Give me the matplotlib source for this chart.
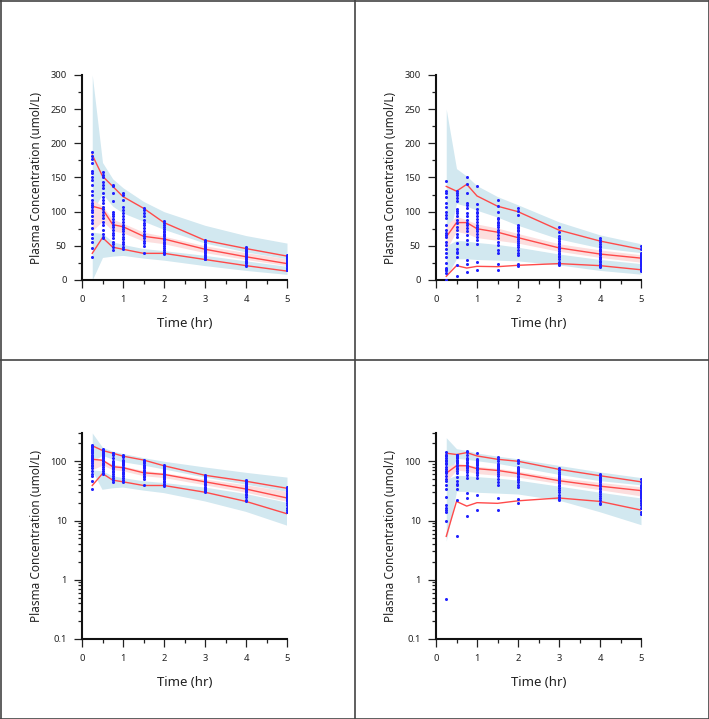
import numpy as np
import matplotlib
matplotlib.use("Agg")
import matplotlib.pyplot as plt
from matplotlib.lines import Line2D
from matplotlib.ticker import MultipleLocator, LogLocator, FixedLocator, NullFormatter, FixedFormatter

plt.rcParams['font.family'] = ['Noto Sans', 'DejaVu Sans']

times = [0.25, 0.5, 0.75, 1, 1.5, 2, 3, 4, 5]

# ---- Model A (left column) observed concentrations per time ----
obs_a_025 = [187, 182, 177, 171, 159, 157, 151, 146, 139, 130, 124, 117, 112, 110, 107, 103, 100, 93, 88, 83, 76, 68, 61, 56, 47, 34]
obs_a_050 = [158, 154, 150, 144, 139, 134, 127, 122, 117, 112, 107, 104, 100, 95, 90, 85, 80, 73, 68, 63, 61]
obs_a_075 = [139, 137, 128, 115, 100, 97, 93, 89, 85, 81, 78, 73, 69, 66, 61, 56, 53, 49, 44]
obs_a_100 = [128, 124, 117, 107, 102, 98, 93, 89, 85, 81, 78, 75, 71, 67, 63, 60, 56, 52, 49, 45]
obs_a_150 = [106, 102, 98, 93, 88, 83, 80, 76, 72, 68, 65, 61, 57, 54, 50, 39]
obs_a_200 = [86, 83, 80, 77, 75, 72, 70, 68, 66, 64, 62, 60, 58, 56, 54, 52, 50, 47, 44, 41, 39, 38]
obs_a_300 = [59, 57, 55, 53, 51, 50, 48, 47, 45, 44, 42, 41, 39, 37, 36, 34, 33, 31, 30]
obs_a_400 = [48, 46, 44, 43, 41, 40, 38, 37, 35, 34, 33, 31, 30, 28, 27, 25, 22, 21]
obs_a_500 = [37, 35, 34, 32, 31, 29, 28, 27, 26, 25, 24, 23, 22, 21, 20, 18, 16, 15, 14]

a_p95 = [183, 152, 137, 122, 105, 84, 58, 46, 35]
a_p50 = [108, 104, 81, 78, 64, 60, 45, 34, 24]
a_p05 = [39, 62, 48, 45, 39, 39, 30, 21, 13]
a_p95_hi = [300, 172, 148, 135, 115, 100, 80, 65, 54]
a_p95_lo = [100, 126, 108, 98, 86, 74, 54, 41, 31]
a_p50_lo = [72, 86, 72, 69, 57, 53, 40, 30, 21]
a_p50_hi = [118, 108, 89, 83, 70, 64, 50, 40, 31]
a_p05_lo = [0, 33, 35, 36, 32, 29, 21, 14, 8.2]
a_p05_hi = [70, 68, 56, 52, 46, 43, 36, 28, 20]

# ---- Model B (right column) ----
obs_b_025 = [145, 130, 128, 122, 112, 107, 100, 95, 90, 80, 73, 69, 66, 63, 56, 51, 46, 39, 34, 25, 18, 16, 15, 14, 10, 0.48]
obs_b_050 = [130, 128, 124, 120, 115, 104, 101, 98, 93, 88, 83, 78, 73, 68, 63, 54, 46, 41, 39, 34, 22, 5.4]
obs_b_075 = [150, 141, 128, 113, 110, 105, 98, 93, 88, 83, 80, 76, 71, 66, 59, 52, 29, 24, 12]
obs_b_100 = [137, 111, 104, 100, 98, 93, 89, 85, 81, 78, 74, 71, 67, 63, 59, 53, 27, 15]
obs_b_150 = [117, 108, 100, 91, 89, 85, 83, 80, 77, 73, 70, 66, 61, 56, 51, 44, 40, 24, 15]
obs_b_200 = [105, 101, 95, 80, 78, 76, 73, 71, 68, 66, 63, 60, 57, 54, 51, 48, 44, 40, 37, 23, 20]
obs_b_300 = [78, 70, 65, 62, 60, 57, 54, 52, 50, 47, 45, 43, 40, 38, 35, 33, 30, 27, 25, 23, 22]
obs_b_400 = [61, 58, 55, 53, 50, 48, 46, 44, 42, 40, 38, 36, 34, 32, 30, 28, 26, 24, 22, 20, 19]
obs_b_500 = [50, 45, 40, 38, 37, 35, 33, 32, 31, 30, 29, 28, 27, 26, 25, 24, 22, 21, 20, 18, 16, 14, 13]

b_p95 = [137, 130, 140, 123, 108, 100, 73, 57, 45]
b_p50 = [63, 84, 84, 75, 70, 62, 47, 38, 32]
b_p05 = [5.4, 21, 17.5, 20, 19.5, 21.5, 24, 21, 15]
b_p95_hi = [250, 163, 152, 138, 122, 110, 85, 66, 53]
b_p95_lo = [45, 112, 108, 102, 92, 80, 60, 47, 40]
b_p50_lo = [45, 71, 68, 62, 58, 54, 42, 33, 26]
b_p50_hi = [80, 93, 88, 82, 76, 68, 53, 44, 37]
b_p05_lo = [4.5, 31, 31, 30, 29, 28, 22, 14, 8.5]
b_p05_hi = [50, 58, 57, 55, 52, 48, 38, 30, 24]

obs_a = [obs_a_025, obs_a_050, obs_a_075, obs_a_100, obs_a_150, obs_a_200, obs_a_300, obs_a_400, obs_a_500]
obs_b = [obs_b_025, obs_b_050, obs_b_075, obs_b_100, obs_b_150, obs_b_200, obs_b_300, obs_b_400, obs_b_500]

BLUE_FILL = '#d2e8f0'
PINK_FILL = '#fcdede'
RED = '#ff4a4a'
TXT = '#222222'

fig = plt.figure(figsize=(7.09, 7.19), dpi=100)
W, H = 709, 719

def make_ax(left_px, top_px, bottom_px, right_px):
    return fig.add_axes([left_px / W, 1 - bottom_px / H, (right_px - left_px) / W, (bottom_px - top_px) / H])

def draw(ax, obs, p95, p50, p05, p95_lo, p95_hi, p50_lo, p50_hi, p05_lo, p05_hi, log):
    if log:
        ax.set_yscale('log', nonpositive='mask')
    ax.fill_between(times, p95_lo, p95_hi, color=BLUE_FILL, lw=0, zorder=1)
    ax.fill_between(times, p05_lo, p05_hi, color=BLUE_FILL, lw=0, zorder=1)
    ax.fill_between(times, p50_lo, p50_hi, color=PINK_FILL, lw=0, zorder=2)
    for line in (p95, p50, p05):
        ax.plot(times, line, color=RED, lw=1.0, zorder=3)
    for t, vals in zip(times, obs):
        ax.plot([t] * len(vals), vals, 'o', color='#2020ff', ms=2.2, mew=0, zorder=4)
    ax.set_xlim(0, 5)
    ax.xaxis.set_major_locator(MultipleLocator(1))
    ax.xaxis.set_minor_locator(MultipleLocator(0.5))
    if log:
        ax.set_ylim(0.1, 300)
        ax.yaxis.set_major_locator(FixedLocator([0.1, 1, 10, 100]))
        ax.yaxis.set_major_formatter(FixedFormatter(['0.1', '1', '10', '100']))
        ax.yaxis.set_minor_locator(LogLocator(base=10, subs=np.arange(2, 10), numticks=20))
        ax.yaxis.set_minor_formatter(NullFormatter())
    else:
        ax.set_ylim(0, 300)
        ax.yaxis.set_major_locator(MultipleLocator(50))
        ax.yaxis.set_minor_locator(MultipleLocator(25))
    for s in ('top', 'right'):
        ax.spines[s].set_visible(False)
    for s in ('left', 'bottom'):
        ax.spines[s].set_linewidth(1.5)
        ax.spines[s].set_color('#111111')
    ax.tick_params(which='major', length=6, width=0.9, labelsize=6.8, pad=5, colors=TXT)
    ax.tick_params(which='minor', length=3, width=0.9, colors=TXT)
    ax.set_xlabel('Time (hr)', fontsize=9.5, labelpad=9, color=TXT)
    ax.set_ylabel('Plasma Concentration (umol/L)', fontsize=8.5, labelpad=5, color=TXT)
    ax.patch.set_alpha(0)

ax1 = make_ax(82, 75, 280, 287)
ax2 = make_ax(436, 75, 280, 641)
ax3 = make_ax(82, 433, 639, 287)
ax4 = make_ax(436, 433, 639, 641)

draw(ax1, obs_a, a_p95, a_p50, a_p05, a_p95_lo, a_p95_hi, a_p50_lo, a_p50_hi, a_p05_lo, a_p05_hi, False)
draw(ax2, obs_b, b_p95, b_p50, b_p05, b_p95_lo, b_p95_hi, b_p50_lo, b_p50_hi, b_p05_lo, b_p05_hi, False)
draw(ax3, obs_a, a_p95, a_p50, a_p05, a_p95_lo, a_p95_hi, a_p50_lo, a_p50_hi, a_p05_lo, a_p05_hi, True)
draw(ax4, obs_b, b_p95, b_p50, b_p05, b_p95_lo, b_p95_hi, b_p50_lo, b_p50_hi, b_p05_lo, b_p05_hi, True)

# panel frame lines
lc = '#444444'
fig.add_artist(Line2D([354.5 / W, 354.5 / W], [0, 1], color=lc, lw=1.2))
fig.add_artist(Line2D([0, 1], [1 - 359.5 / H, 1 - 359.5 / H], color=lc, lw=1.2))
fig.add_artist(Line2D([0.5 / W, 0.5 / W], [0, 1], color=lc, lw=1.2))
fig.add_artist(Line2D([0, 1], [1 - 0.5 / H, 1 - 0.5 / H], color=lc, lw=1.2))
fig.add_artist(Line2D([708.5 / W, 708.5 / W], [0, 1], color=lc, lw=1.2))
fig.add_artist(Line2D([0, 1], [1 - 718.5 / H, 1 - 718.5 / H], color=lc, lw=1.2))

fig.savefig('out.png', dpi=100)
